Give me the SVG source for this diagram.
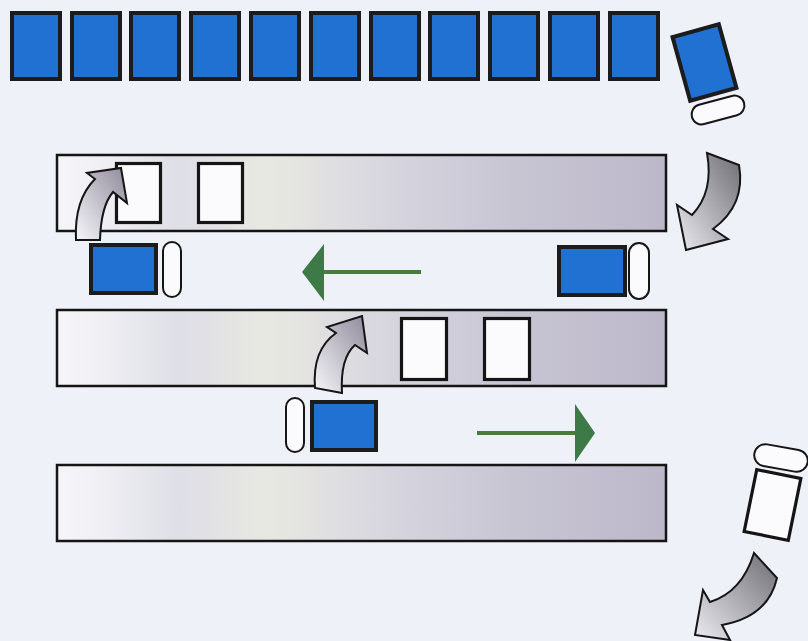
<svg xmlns="http://www.w3.org/2000/svg" width="808" height="641" viewBox="0 0 808 641">
<defs>
<style>
.car{fill:#2171d2;stroke:#1c1c1c;stroke-width:4}
.slot{fill:#fbfbfd;stroke:#151515;stroke-width:3.2}
.oval{fill:#fbfbfd;stroke:#151515;stroke-width:2}
.bar{fill:url(#barg);stroke:#151515;stroke-width:2.5}
.carrow{stroke:#151515;stroke-width:2;stroke-linejoin:miter}
.gline{stroke:#4a7d3c;stroke-width:4}
.ghead{fill:#3d7a47}
</style>
<linearGradient id="barg" x1="0" y1="0" x2="1" y2="0">
<stop offset="0" stop-color="#f6f6fa"/>
<stop offset="0.08" stop-color="#eeeef3"/>
<stop offset="0.2" stop-color="#dedee6"/>
<stop offset="0.35" stop-color="#e8e8e2"/>
<stop offset="0.55" stop-color="#d6d5de"/>
<stop offset="0.75" stop-color="#c8c5d3"/>
<stop offset="1" stop-color="#bcb8ca"/>
</linearGradient>
<linearGradient id="upg" x1="0" y1="1" x2="1" y2="0">
<stop offset="0" stop-color="#f6f6fa"/>
<stop offset="1" stop-color="#8f8a9a"/>
</linearGradient>
<linearGradient id="downg" x1="1" y1="0" x2="0" y2="1">
<stop offset="0" stop-color="#6c6c72"/>
<stop offset="1" stop-color="#ecebf2"/>
</linearGradient>
</defs>
<rect width="808" height="641" fill="#eff1f9"/>

<g id="bar1"><rect class="bar" x="57" y="155" width="609" height="76"/></g>
<g id="bar2"><rect class="bar" x="57" y="310" width="609" height="76"/></g>
<g id="bar3"><rect class="bar" x="57" y="465" width="609" height="76"/></g>

<g id="toprow">
<rect class="car" x="12" y="13" width="48" height="66"/>
<rect class="car" x="72" y="13" width="48" height="66"/>
<rect class="car" x="131" y="13" width="48" height="66"/>
<rect class="car" x="191" y="13" width="48" height="66"/>
<rect class="car" x="251" y="13" width="48" height="66"/>
<rect class="car" x="311" y="13" width="48" height="66"/>
<rect class="car" x="371" y="13" width="48" height="66"/>
<rect class="car" x="430" y="13" width="48" height="66"/>
<rect class="car" x="490" y="13" width="48" height="66"/>
<rect class="car" x="550" y="13" width="48" height="66"/>
<rect class="car" x="610" y="13" width="48" height="66"/>
</g>

<g id="car-tilted-top">
<rect class="car" x="-24" y="-33" width="48" height="66" transform="translate(704.5 62.5) rotate(-15.5)"/>
<rect class="oval" x="-27" y="-10" width="54" height="20" rx="10" transform="translate(718 110) rotate(-15)"/>
</g>

<g id="slots-bar1">
<rect class="slot" x="116.5" y="163.5" width="44" height="59"/>
<rect class="slot" x="198.5" y="163.5" width="44" height="59"/>
</g>
<g id="slots-bar2">
<rect class="slot" x="401.5" y="318.5" width="45" height="61"/>
<rect class="slot" x="484.5" y="318.5" width="45" height="61"/>
</g>

<g id="car-left">
<rect class="car" x="91" y="245" width="65" height="48"/>
<rect class="oval" x="163" y="242" width="18" height="55" rx="9"/>
</g>
<g id="car-right">
<rect class="car" x="559" y="247" width="66" height="48"/>
<rect class="oval" x="629" y="243" width="20" height="56" rx="10"/>
</g>
<g id="car-lower">
<rect class="car" x="312" y="402" width="64" height="48"/>
<rect class="oval" x="286" y="398" width="18" height="54" rx="9"/>
</g>

<g id="car-tilted-bottom">
<rect class="slot" x="-22.5" y="-31.5" width="45" height="63" transform="translate(772.5 505) rotate(11.5)"/>
<rect class="oval" x="-27" y="-11" width="54" height="22" rx="11" transform="translate(781 458) rotate(10)"/>
</g>

<g id="connectors">
<path class="carrow" fill="url(#upg)" d="M76,240 Q74,200 95,179 L87,173 L121,168 L127,203 L113,192 Q101,206 100,240 Z"/>
<path class="carrow" fill="url(#upg)" d="M315,388 Q312,350 336,333 L327,327 L362,316 L367,353 L355,345 Q340,358 342,393 Z"/>
<path class="carrow" fill="url(#downg)" d="M707,153 L739,165 Q746,205 713,229 L728,239 L686,250 L677,205 L692,215 Q714,192 707,153 Z"/>
<path class="carrow" fill="url(#downg)" d="M754,553 L777,578 Q768,617 722,625 L730,640 L695,635 L703,590 L710,602 Q742,592 754,553 Z"/>
<line class="gline" x1="322" y1="272" x2="421" y2="272"/>
<polygon class="ghead" points="302,272 324,244 324,301"/>
<line class="gline" x1="477" y1="433" x2="577" y2="433"/>
<polygon class="ghead" points="595,433 575,404 575,462"/>
</g>
</svg>
